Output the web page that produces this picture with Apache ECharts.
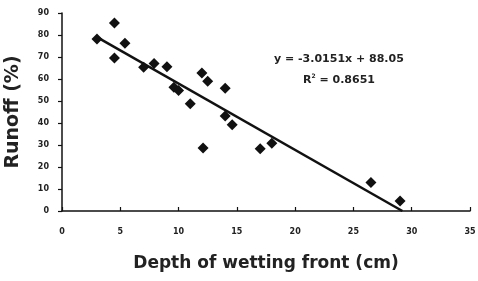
<!DOCTYPE html>
<html><head><meta charset="utf-8">
<script src="https://cdn.jsdelivr.net/npm/echarts@6/dist/echarts.min.js"></script>
<style>html,body{margin:0;padding:0;background:#fff}#c{width:478px;height:281px}</style>
</head><body><div id="c"></div>
<script>
const depth = [3.0, 4.5, 4.5, 5.4, 7.0, 7.9, 9.0, 9.6, 10.0, 11.0, 12.0, 12.5, 14.0, 12.1, 14.0, 14.6, 17.0, 18.0, 26.5, 29.0];
const runoff = [78.2, 85.5, 69.5, 76.2, 65.3, 67.0, 65.6, 56.2, 54.8, 48.8, 62.7, 59.0, 55.8, 28.6, 43.2, 39.2, 28.3, 30.8, 13.0, 4.5];
const slope = -3.0151, intercept = 88.05;
const fitX = [3.0, 29.2];
const xTicks = [0, 5, 10, 15, 20, 25, 30, 35];
const yTicks = [0, 10, 20, 30, 40, 50, 60, 70, 80, 90];

const pts = depth.map((d, i) => [d, runoff[i]]);
const fit = fitX.map(x => [x, slope * x + intercept]);
const fd = '"DejaVu Sans", Arial, sans-serif';
const chart = echarts.init(document.getElementById('c'));
chart.setOption({
  animation: false,
  grid: {left: 62, right: 8, top: 13, bottom: 70, containLabel: false, outerBoundsMode: 'none'},
  xAxis: {
    type: 'value', min: 0, max: 35, interval: 5,
    name: 'Depth of wetting front (cm)', nameLocation: 'middle', nameGap: 44,
    nameTextStyle: {fontFamily: fd, fontSize: 17, fontWeight: 'bold', color: '#222'},
    axisLine: {lineStyle: {color: '#111', width: 1.5}},
    axisTick: {inside: true, length: 4, lineStyle: {color: '#111', width: 1.2}},
    axisLabel: {fontFamily: fd, fontSize: 8, fontWeight: 'bold', color: '#222', margin: 17},
    splitLine: {show: false}
  },
  yAxis: {
    type: 'value', min: 0, max: 90, interval: 10,
    name: 'Runoff (%)', nameLocation: 'middle', nameGap: 39,
    nameTextStyle: {fontFamily: fd, fontSize: 19, fontWeight: 'bold', color: '#222'},
    axisLine: {show: true, lineStyle: {color: '#111', width: 1.5}},
    axisTick: {show: true, length: 4, lineStyle: {color: '#111', width: 1.2}},
    axisLabel: {fontFamily: fd, fontSize: 8, fontWeight: 'bold', color: '#222', margin: 13},
    splitLine: {show: false}
  },
  series: [
    {type: 'line', data: fit, symbol: 'none', lineStyle: {color: '#111', width: 2.5}, z: 2},
    {type: 'scatter', data: pts, symbol: 'diamond', symbolSize: 11, itemStyle: {color: '#111', opacity: 1}, z: 3}
  ],
  graphic: [
    {type: 'text', left: 274, top: 54, style: {text: 'y = -3.0151x + 88.05', font: 'bold 11px "DejaVu Sans", Arial, sans-serif', fill: '#222'}},
    {type: 'text', left: 303, top: 73, style: {
      text: '{a|R}{s|2}{a| = 0.8651}',
      rich: {
        a: {font: 'bold 11px "DejaVu Sans", Arial, sans-serif', fill: '#222', verticalAlign: 'bottom'},
        s: {font: 'bold 6px "DejaVu Sans", Arial, sans-serif', fill: '#222', verticalAlign: 'top', padding: [0, 0, 7, 0]}
      }
    }}
  ]
});
</script></body></html>
